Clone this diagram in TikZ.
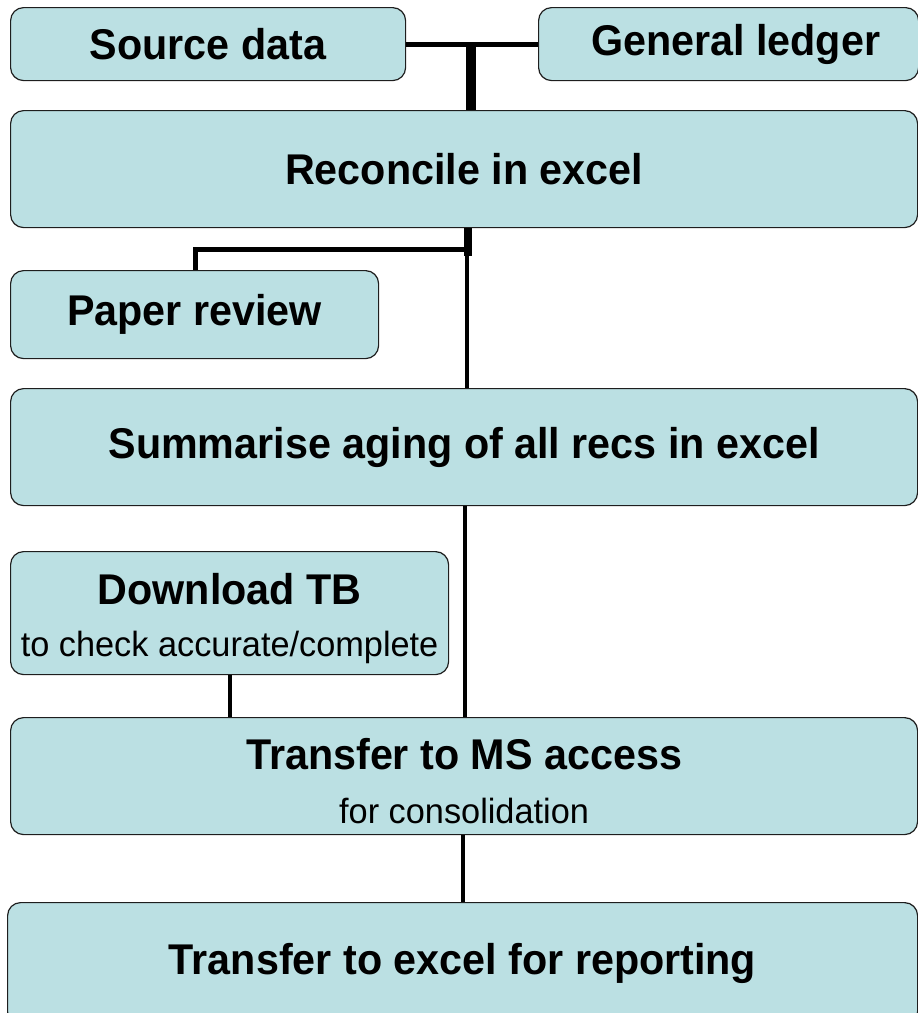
\documentclass[tikz,border=0pt]{standalone}
\usepackage{fontspec}
\newfontfamily\tfont{Liberation Sans}[FakeStretch=0.96]
\newfontfamily\sfont{Liberation Sans}[FakeStretch=0.98]
\definecolor{boxfill}{RGB}{187,224,227}
\definecolor{boxline}{RGB}{30,30,30}
\tikzset{
  flowbox/.style={draw=boxline, line width=1.2pt, fill=boxfill, rounded corners=13pt,
    anchor=north west, inner sep=0pt, align=center, text=black},
  title/.style={font=\tfont\bfseries\fontsize{43}{46}\selectfont, align=center, inner sep=0pt},
  conn/.style={draw=black, line width=4.5pt}
}
\newcommand{\sub}[1]{{\sfont\mdseries\fontsize{35}{38}\selectfont #1}}
\begin{document}
\begin{tikzpicture}[x=1pt,y=-1pt]
\useasboundingbox (0,0) rectangle (918,1013);
\node[flowbox,title,minimum width=395pt,minimum height=73pt] (src) at (10,7) {Source data};
\node[flowbox,minimum width=380pt,minimum height=73pt] (gl) at (538,7) {};
\node[title] (glt) at ([xshift=7pt]gl.center) {General ledger};
\node[flowbox,title,minimum width=907pt,minimum height=117pt] (rec) at (10,110) {Reconcile in excel};
\node[flowbox,title,minimum width=368pt,minimum height=88pt] (pap) at (10,270) {Paper review};
\node[flowbox,title,minimum width=907pt,minimum height=117pt] (sum) at (10,388) {Summarise aging of all recs in excel};
\node[flowbox,minimum width=438pt,minimum height=123pt] (dl) at (10,551) {};
\node[title] (dlt) at ([yshift=-5pt]dl.center) {Download TB\\[6pt]\sub{to check accurate/complete}};
\node[flowbox,minimum width=907pt,minimum height=117pt] (ms) at (10,717) {};
\node[title] (mst) at ([yshift=-4.5pt]ms.center) {Transfer to MS access\\[8pt]\sub{for consolidation}};
\node[flowbox,title,minimum width=910pt,minimum height=122pt] (rep) at (7,902) {Transfer to excel for reporting};
% top connectors
\coordinate (j1) at (471,43);
\draw[conn,line width=5pt] (src.east) -- (gl.west);
\draw[conn,line width=10pt] (j1) -- (j1 |- rec.north);
% below reconcile
\coordinate (j2) at (467,249);
\coordinate (j2t) at (468,256);
\coordinate (j3) at (195,249);
\draw[conn,line width=8pt] (j2t |- rec.south) -- (j2t);
\draw[conn] (j2 |- rec.south) -- (j2 |- sum.north);
\draw[conn,line width=5pt] (j2t) ++(0,-7) -| (j3 |- pap.north);
% lower connectors
\coordinate (j4) at (465,505);
\draw[conn] (j4 |- sum.south) -- (j4 |- ms.north);
\coordinate (j5) at (230,674);
\draw[conn] (j5 |- dl.south) -- (j5 |- ms.north);
\coordinate (j6) at (463,834);
\draw[conn] (j6 |- ms.south) -- (j6 |- rep.north);
\end{tikzpicture}
\end{document}
